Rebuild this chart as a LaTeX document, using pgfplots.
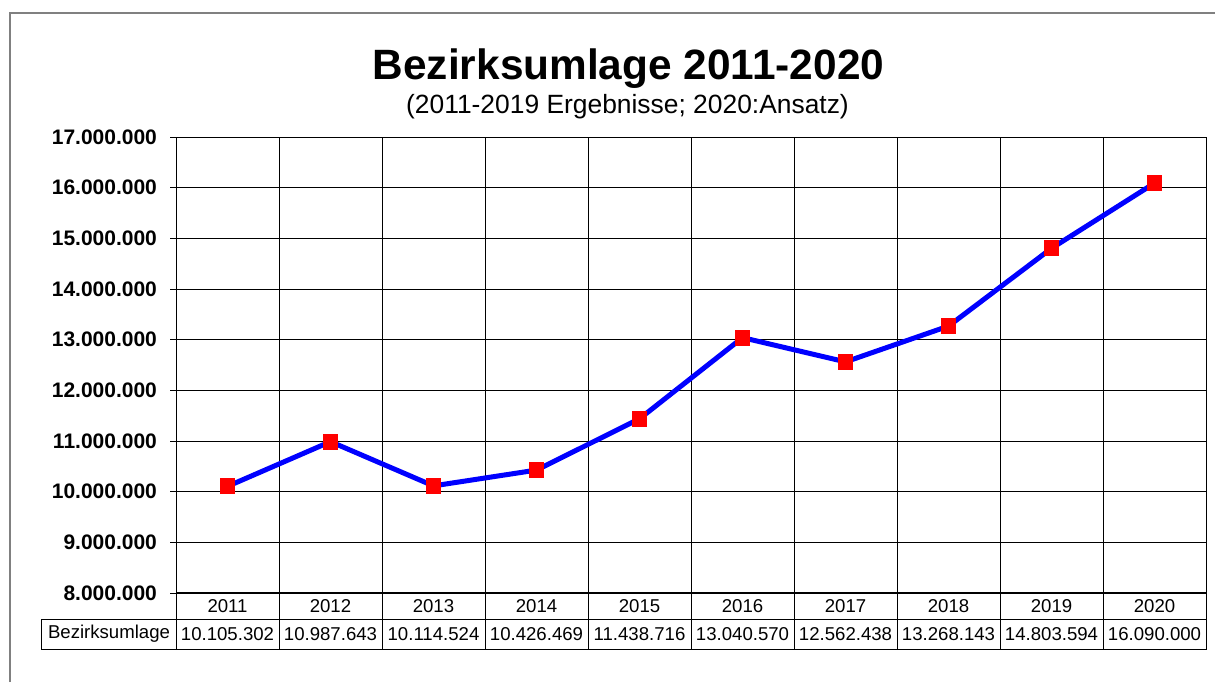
\documentclass[border=0pt]{standalone}
\usepackage{fontspec}
\setmainfont{Liberation Sans}
\usepackage{pgfplots}
\pgfplotsset{compat=1.18}
\newcommand{\tcell}[3]{%
  \node[font=\fontsize{9.3}{11}\selectfont] at ([yshift=-6.5pt]axis cs:#1,8000000) {#2};
  \node[font=\fontsize{9.3}{11}\selectfont] at ([yshift=-20.5pt]axis cs:#1,8000000) {#3};}
\begin{document}
\begin{tikzpicture}[x=0.5pt,y=-0.5pt]
\useasboundingbox (0,0) rectangle (1215,682);
\draw[black!50, line width=1pt] (10,682) -- (10,13) -- (1215,13);
\node[font=\fontsize{21.2}{24}\selectfont\bfseries, anchor=base, inner sep=0pt] at (628.5,79) {Bezirksumlage 2011-2020};
\node[font=\fontsize{13.2}{15}\selectfont, anchor=base, inner sep=0pt] at (627.5,113) {(2011-2019 Ergebnisse; 2020:Ansatz)};
\begin{axis}[
  at={(88pt,-296.5pt)}, anchor=south west,
  scale only axis, width=515pt, height=228pt,
  xmin=0, xmax=10, ymin=8000000, ymax=17000000,
  clip=false,
  xtick={0,1,2,3,4,5,6,7,8,9,10}, xticklabels={},
  x tick style={draw=none},
  ytick={8000000,9000000,10000000,11000000,12000000,13000000,14000000,15000000,16000000,17000000},
  scaled y ticks=false,
  ytick pos=left, tick align=outside, major tick length=3pt,
  y tick style={black, line width=0.5pt},
  grid=major, grid style={black, line width=0.5pt},
  axis line style={black, line width=0.5pt},
  yticklabel style={font=\fontsize{10.5}{12}\selectfont\bfseries, xshift=-3pt},
  y tick label style={/pgf/number format/.cd, fixed, precision=0, 1000 sep={.}, assume math mode=true},
]
\addplot[blue, line width=2.5pt, mark=square*, mark size=3.7pt, mark options={fill=red, draw=red, line width=0pt}]
  coordinates {(0.5,10105302) (1.5,10987643) (2.5,10114524) (3.5,10426469) (4.5,11438716)
               (5.5,13040570) (6.5,12562438) (7.5,13268143) (8.5,14803594) (9.5,16090000)};
\draw[black, line width=1pt] (axis cs:0,8000000) -- (axis cs:10,8000000);
\pgfplotsinvokeforeach{0,1,2,3,4,5,6,7,8,9,10}{
  \draw[black, line width=0.5pt] (axis cs:#1,8000000) -- ([yshift=-28pt]axis cs:#1,8000000);
}
\draw[black, line width=0.5pt] ([shift={(-67pt,-13pt)}]axis cs:0,8000000) rectangle ([yshift=-28pt]axis cs:10,8000000);
\node[font=\fontsize{9.3}{11}\selectfont] at ([shift={(-33.5pt,-20.5pt)}]axis cs:0,8000000) {Bezirksumlage};
\tcell{0.5}{2011}{10.105.302}
\tcell{1.5}{2012}{10.987.643}
\tcell{2.5}{2013}{10.114.524}
\tcell{3.5}{2014}{10.426.469}
\tcell{4.5}{2015}{11.438.716}
\tcell{5.5}{2016}{13.040.570}
\tcell{6.5}{2017}{12.562.438}
\tcell{7.5}{2018}{13.268.143}
\tcell{8.5}{2019}{14.803.594}
\tcell{9.5}{2020}{16.090.000}
\end{axis}
\end{tikzpicture}
\end{document}
